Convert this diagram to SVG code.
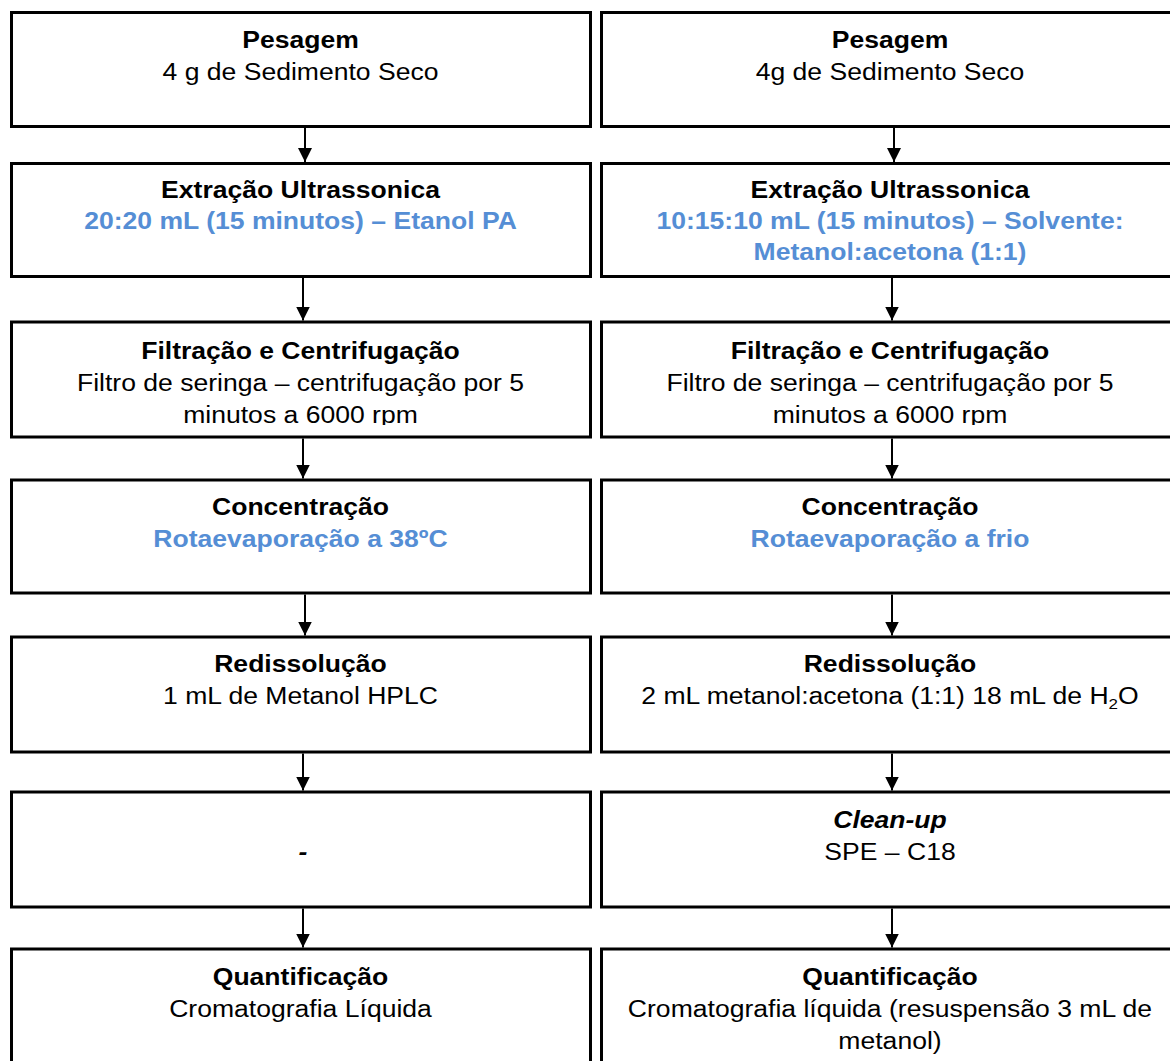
<svg xmlns="http://www.w3.org/2000/svg" width="1170" height="1061" viewBox="0 0 1170 1061">
<style>
.box{fill:#fff;stroke:#000;stroke-width:3}
text{font-family:"Liberation Sans",Arial,sans-serif;font-size:23.5px;text-anchor:middle;fill:#000}
.b{font-weight:bold}
.bi{font-weight:bold;font-style:italic}
.blue{font-weight:bold;fill:#558ed5}
.conn line{stroke:#000;stroke-width:2;marker-end:url(#arr)}
</style>
<defs>
<marker id="arr" markerUnits="userSpaceOnUse" markerWidth="14" markerHeight="14" refX="14" refY="7" orient="auto">
<path d="M0,0 L14,7 L0,14 z" fill="#000"/>
</marker>
<clipPath id="clipL3"><rect x="0" y="320" width="595" height="105"/></clipPath>
<clipPath id="clipR3"><rect x="598" y="320" width="600" height="105"/></clipPath>
</defs>
<rect width="1170" height="1061" fill="#fff"/>

<g id="L1">
<rect class="box" x="11.5" y="12.5" width="579" height="114"/>
<text class="b" transform="translate(300.5 48) scale(1.13 1)">Pesagem</text>
<text transform="translate(300.5 80) scale(1.13 1)">4 g de Sedimento Seco</text>
</g>
<g id="L2">
<rect class="box" x="11.5" y="163.5" width="579" height="113"/>
<text class="b" transform="translate(300.5 198) scale(1.13 1)">Extração Ultrassonica</text>
<text class="blue" transform="translate(300.5 229) scale(1.13 1)">20:20 mL (15 minutos) – Etanol PA</text>
</g>
<g id="L3">
<rect class="box" x="11.5" y="322" width="579" height="115"/>
<text class="b" transform="translate(300.5 359) scale(1.13 1)">Filtração e Centrifugação</text>
<text transform="translate(300.5 391) scale(1.13 1)">Filtro de seringa – centrifugação por 5</text>
<g clip-path="url(#clipL3)"><text transform="translate(300.5 423) scale(1.13 1)">minutos a 6000 rpm</text></g>
</g>
<g id="L4">
<rect class="box" x="11.5" y="480" width="579" height="113"/>
<text class="b" transform="translate(300.5 515) scale(1.13 1)">Concentração</text>
<text class="blue" transform="translate(300.5 547) scale(1.13 1)">Rotaevaporação a 38ºC</text>
</g>
<g id="L5">
<rect class="box" x="11.5" y="637" width="579" height="115"/>
<text class="b" transform="translate(300.5 672) scale(1.13 1)">Redissolução</text>
<text transform="translate(300.5 704) scale(1.13 1)">1 mL de Metanol HPLC</text>
</g>
<g id="L6">
<rect class="box" x="11.5" y="792" width="579" height="115"/>
<text class="bi" transform="translate(303 860) scale(1.13 1)">-</text>
</g>
<g id="L7">
<rect class="box" x="11.5" y="949" width="579" height="140"/>
<text class="b" transform="translate(300.5 985) scale(1.13 1)">Quantificação</text>
<text transform="translate(300.5 1017) scale(1.13 1)">Cromatografia Líquida</text>
</g>

<g id="R1">
<rect class="box" x="601.5" y="12.5" width="580" height="114"/>
<text class="b" transform="translate(890 48) scale(1.13 1)">Pesagem</text>
<text transform="translate(890 80) scale(1.13 1)">4g de Sedimento Seco</text>
</g>
<g id="R2">
<rect class="box" x="601.5" y="163.5" width="580" height="113"/>
<text class="b" transform="translate(890 198) scale(1.13 1)">Extração Ultrassonica</text>
<text class="blue" transform="translate(890 229) scale(1.13 1)">10:15:10 mL (15 minutos) – Solvente:</text>
<text class="blue" transform="translate(890 260) scale(1.13 1)">Metanol:acetona (1:1)</text>
</g>
<g id="R3">
<rect class="box" x="601.5" y="322" width="580" height="115"/>
<text class="b" transform="translate(890 359) scale(1.13 1)">Filtração e Centrifugação</text>
<text transform="translate(890 391) scale(1.13 1)">Filtro de seringa – centrifugação por 5</text>
<g clip-path="url(#clipR3)"><text transform="translate(890 423) scale(1.13 1)">minutos a 6000 rpm</text></g>
</g>
<g id="R4">
<rect class="box" x="601.5" y="480" width="580" height="113"/>
<text class="b" transform="translate(890 515) scale(1.13 1)">Concentração</text>
<text class="blue" transform="translate(890 547) scale(1.13 1)">Rotaevaporação a frio</text>
</g>
<g id="R5">
<rect class="box" x="601.5" y="637" width="580" height="115"/>
<text class="b" transform="translate(890 672) scale(1.13 1)">Redissolução</text>
<text transform="translate(890 704) scale(1.13 1)">2 mL metanol:acetona (1:1) 18 mL de H<tspan font-size="15" dy="5">2</tspan><tspan dy="-5">O</tspan></text>
</g>
<g id="R6">
<rect class="box" x="601.5" y="792" width="580" height="115"/>
<text class="bi" transform="translate(890 828) scale(1.13 1)">Clean-up</text>
<text transform="translate(890 860) scale(1.13 1)">SPE – C18</text>
</g>
<g id="R7">
<rect class="box" x="601.5" y="949" width="580" height="140"/>
<text class="b" transform="translate(890 985) scale(1.13 1)">Quantificação</text>
<text transform="translate(890 1017) scale(1.13 1)">Cromatografia líquida (resuspensão 3 mL de</text>
<text transform="translate(890 1049) scale(1.13 1)">metanol)</text>
</g>

<g id="connectors" class="conn">
<line x1="305" y1="128" x2="305" y2="162"/>
<line x1="303" y1="278" x2="303" y2="320.5"/>
<line x1="303" y1="438.5" x2="303" y2="478.5"/>
<line x1="305" y1="594.5" x2="305" y2="635.5"/>
<line x1="303" y1="753.5" x2="303" y2="790.5"/>
<line x1="303" y1="908.5" x2="303" y2="947.5"/>
<line x1="894" y1="128" x2="894" y2="162"/>
<line x1="892" y1="278" x2="892" y2="320.5"/>
<line x1="892" y1="438.5" x2="892" y2="478.5"/>
<line x1="892" y1="594.5" x2="892" y2="635.5"/>
<line x1="892" y1="753.5" x2="892" y2="790.5"/>
<line x1="892" y1="908.5" x2="892" y2="947.5"/>
</g>
</svg>
